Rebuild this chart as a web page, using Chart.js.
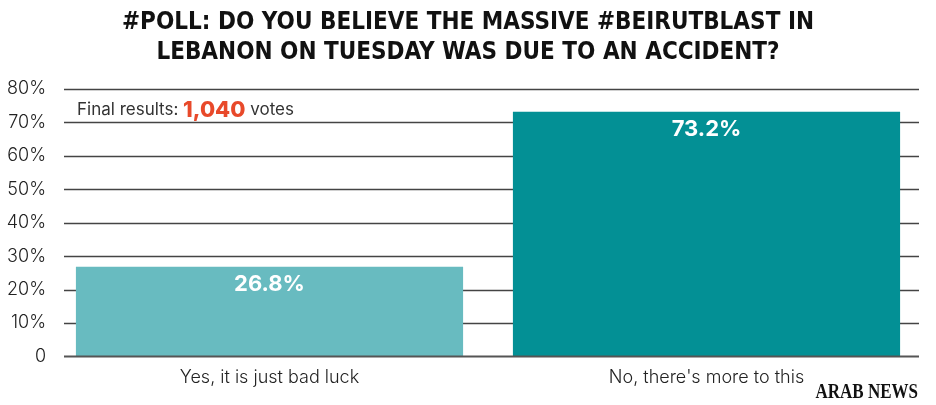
<!DOCTYPE html>
<html>
<head>
<meta charset="utf-8">
<script src="https://cdn.jsdelivr.net/npm/chart.js@4"></script>
<style>
  html, body { margin: 0; padding: 0; background: #fff; }
  #wrap { width: 936px; height: 405px; }
</style>
</head>
<body>
<div id="wrap"><canvas id="pollChart" width="936" height="405"></canvas></div>
<script>
// poll data
var categories = ["Yes, it is just bad luck", "No, there's more to this"];
var shares = [26.8, 73.2];
var barColors = ['#68bbc0', '#039095'];
var yTicks = [0, 10, 20, 30, 40, 50, 60, 70, 80];
var titleLines = ['#POLL: DO YOU BELIEVE THE MASSIVE #BEIRUTBLAST IN', 'LEBANON ON TUESDAY WAS DUE TO AN ACCIDENT?'];
var totalVotes = '1,040';

// gridlines, title, labels and logo
var decor = {
    id: 'decor',
    beforeDatasetsDraw: function(chart) {
        var c = chart.ctx, y = chart.scales.y;
        c.save();
        c.strokeStyle = '#444';
        c.lineWidth = 1.5;
        yTicks.forEach(function(t) {
            if (t === 0) return;
            var py = Math.round(y.getPixelForValue(t)) + 0.5;
            c.beginPath(); c.moveTo(64, py); c.lineTo(919, py); c.stroke();
        });
        c.restore();
    },
    afterDatasetsDraw: function(chart) {
        var c = chart.ctx, y = chart.scales.y;
        c.save();
        // base line
        c.strokeStyle = '#555';
        c.lineWidth = 2;
        var py0 = y.getPixelForValue(0);
        c.beginPath(); c.moveTo(64, py0); c.lineTo(919, py0); c.stroke();

        // value labels inside bars
        var meta = chart.getDatasetMeta(0);
        c.fillStyle = '#fff';
        c.font = '700 22px Inter';
        c.textAlign = 'center';
        c.textBaseline = 'middle';
        meta.data.forEach(function(bar, i) {
            c.fillText(shares[i].toFixed(1) + '%', bar.x, bar.y + 18);
        });

        // title
        c.fillStyle = '#111';
        c.font = 'bold 24px "DejaVu Sans Condensed", "DejaVu Sans"';
        c.fillText(titleLines[0], 468, 23);
        c.fillText(titleLines[1], 468, 53);

        // annotation
        c.textAlign = 'left';
        c.font = '400 17px Inter';
        c.fillStyle = '#333';
        var x = 77, ty = 110;
        c.fillText('Final results: ', x, ty);
        x += c.measureText('Final results: ').width;
        c.font = '800 22px Inter';
        c.fillStyle = '#e8492a';
        c.fillText(totalVotes, x, ty);
        x += c.measureText(totalVotes).width;
        c.font = '400 17px Inter';
        c.fillStyle = '#333';
        c.fillText(' votes', x, ty);

        // logo
        c.font = 'bold 20px "Liberation Serif"';
        c.fillStyle = '#111';
        c.textAlign = 'right';
        c.save();
        c.translate(918, 393);
        c.scale(0.85, 1);
        c.fillText('ARAB NEWS', 0, 0);
        c.restore();
        c.restore();
    }
};

var ctx = document.getElementById('pollChart').getContext('2d');
var pollChart = new Chart(ctx, {
    type: 'bar',
    data: {
        labels: categories,
        datasets: [{
            data: shares,
            backgroundColor: barColors,
            borderWidth: 0,
            categoryPercentage: 1,
            barPercentage: 0.886
        }]
    },
    options: {
        responsive: false,
        animation: false,
        layout: { padding: { top: 89, right: 11, bottom: 15, left: 0 } },
        plugins: {
            legend: { display: false },
            tooltip: { enabled: false },
            title: { display: false }
        },
        scales: {
            x: {
                grid: { display: false },
                border: { display: false },
                ticks: {
                    color: '#222',
                    padding: 2,
                    font: { family: 'Inter', size: 18, weight: '300' }
                }
            },
            y: {
                min: 0,
                max: 80,
                afterFit: function(scale) { scale.width = 51; },
                grid: { display: false },
                border: { display: false },
                ticks: {
                    stepSize: 10,
                    padding: -3,
                    color: '#222',
                    font: { family: 'Inter', size: 18, weight: '300' },
                    callback: function(v) { return v === 0 ? '0' : v + '%'; }
                }
            }
        }
    },
    plugins: [decor]
});
</script>
</body>
</html>
